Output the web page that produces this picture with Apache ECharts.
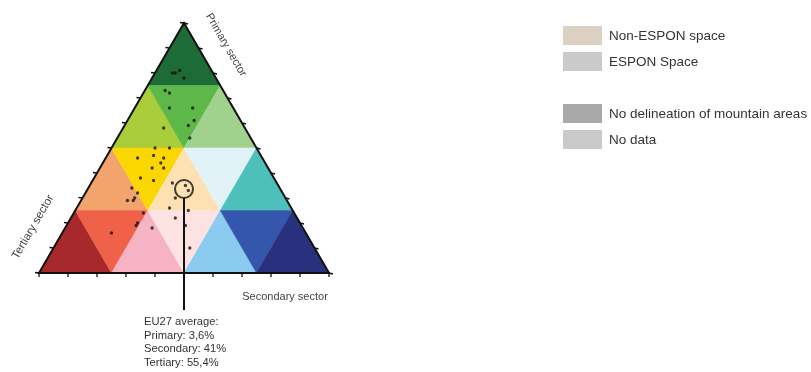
<!DOCTYPE html>
<html><head><meta charset="utf-8">
<script src="https://cdn.jsdelivr.net/npm/echarts@6/dist/echarts.min.js"></script>
<style>html,body{margin:0;padding:0;background:#fff}#c{width:811px;height:372px}</style>
</head><body><div id="c"></div>
<script>
// Region shares (%): primary / secondary / tertiary
const regionPrimary   = [80,80,81,78, 73,72,66,66,61,59,58,54, 50,50,47,46,46,44,42,42,38,37,34,32,30,29,29, 36,35,33,30,26,25, 24,20,19,18,16,22,19,10];
const regionSecondary = [ 6, 7, 8,11,  7, 9,12,20,23,22,14,25, 15,20,16,20,11,20,22,18,16,21,15,18,18,18,16, 28,33,35,32,32,39, 24,24,24,30,17,36,41,47];

// Ternary classes (vertices as [primary, secondary]) and colours
const cellVertices = [
  [[100,0],[75,0],[75,25]],
  [[75,0],[50,0],[50,25]], [[75,0],[75,25],[50,25]], [[75,25],[50,25],[50,50]],
  [[50,0],[25,0],[25,25]], [[50,0],[50,25],[25,25]], [[50,25],[25,25],[25,50]], [[50,25],[50,50],[25,50]], [[50,50],[25,50],[25,75]],
  [[25,0],[0,0],[0,25]], [[25,0],[25,25],[0,25]], [[25,25],[0,25],[0,50]], [[25,25],[25,50],[0,50]], [[25,50],[0,50],[0,75]], [[25,50],[25,75],[0,75]], [[25,75],[0,75],[0,100]]
];
const cellColors = [
  '#1d6b36',
  '#aacd3c', '#5db749', '#a0d28e',
  '#f2a46c', '#fad700', '#fde1b3', '#e2f3f8', '#4dc0bc',
  '#a7292b', '#ef6149', '#f5b3c3', '#fde2e2', '#8acbef', '#3457ad', '#29317f'
];
const tickValues = [0,10,20,30,40,50,60,70,80,90,100];

// EU27 average marker (position in plot) and annotation
const euMarker = [33.6, 33.2];
const euLines = ['EU27 average:', 'Primary: 3,6%', 'Secondary: 41%', 'Tertiary: 55,4%'];

// Axis titles
const axisTitles = ['Primary sector', 'Secondary sector', 'Tertiary sector'];

// Legend
const legendLabels = ['Non-ESPON space', 'ESPON Space', 'No delineation of mountain areas', 'No data'];
const legendColors = ['#dcd0c2', '#cacacd', '#a9a9a9', '#c9c9c9'];

function xy(p, s) { return [s + p / 2, p]; }

const chart = echarts.init(document.getElementById('c'));
const FONT = 'Liberation Sans, Arial, sans-serif';

const tickData = [];
tickValues.forEach(v => { tickData.push([0, v]); tickData.push([1, v]); tickData.push([2, v]); });

const legendTop = [26, 52, 104, 130];
const graphics = [];
legendLabels.forEach((l, i) => {
  graphics.push({type: 'rect', shape: {x: 563, y: legendTop[i], width: 39, height: 19}, style: {fill: legendColors[i]}});
  graphics.push({type: 'text', x: 609, y: legendTop[i] + 10, style: {text: l, fill: '#333', font: '13.5px ' + FONT, verticalAlign: 'middle'}});
});
graphics.push({type: 'text', x: 226, y: 45, rotation: -Math.PI / 3, style: {text: axisTitles[0], fill: '#444', font: '11px ' + FONT, align: 'center', verticalAlign: 'middle'}});
graphics.push({type: 'text', x: 285, y: 297, style: {text: axisTitles[1], fill: '#444', font: '11px ' + FONT, align: 'center', verticalAlign: 'middle'}});
graphics.push({type: 'text', x: 33, y: 227, rotation: Math.PI / 3, style: {text: axisTitles[2], fill: '#444', font: '11.5px ' + FONT, align: 'center', verticalAlign: 'middle'}});
euLines.forEach((t, i) => {
  graphics.push({type: 'text', x: 144, y: 322 + i * 13.5, style: {text: t, fill: '#333', font: '11.2px ' + FONT, verticalAlign: 'middle'}});
});

chart.setOption({
  animation: false,
  grid: {left: 39, top: 23, width: 290, height: 250},
  xAxis: {type: 'value', min: 0, max: 100, show: false},
  yAxis: {type: 'value', min: 0, max: 100, show: false},
  graphic: graphics,
  series: [
    {
      type: 'custom', z: 1,
      data: cellColors.map((c, i) => i),
      renderItem: (params, api) => {
        const i = api.value(0);
        const pts = cellVertices[i].map(v => api.coord(xy(v[0], v[1])));
        return {type: 'polygon', shape: {points: pts}, style: {fill: cellColors[i], stroke: cellColors[i], lineWidth: 0.5}};
      }
    },
    {
      type: 'custom', z: 3,
      data: [0],
      renderItem: (params, api) => {
        const pts = [api.coord(xy(100, 0)), api.coord(xy(0, 0)), api.coord(xy(0, 100))];
        return {type: 'polygon', shape: {points: pts}, style: {fill: 'none', stroke: '#111', lineWidth: 2}};
      }
    },
    {
      type: 'custom', z: 3,
      data: tickData,
      renderItem: (params, api) => {
        const e = api.value(0), v = api.value(1);
        let p, d;
        if (e === 0) { p = api.coord(xy(0, v)); d = [0, 4]; }
        else if (e === 1) { p = api.coord(xy(v, 0)); d = [-4, -0.5]; }
        else { p = api.coord(xy(v, 100 - v)); d = [4, 1]; }
        return {type: 'line', shape: {x1: p[0], y1: p[1], x2: p[0] + d[0], y2: p[1] + d[1]}, style: {stroke: '#111', lineWidth: 1.3}};
      }
    },
    {
      type: 'scatter', z: 4,
      symbolSize: 3.3,
      itemStyle: {color: '#111'},
      data: regionPrimary.map((p, i) => xy(p, regionSecondary[i]))
    },
    {
      type: 'scatter', z: 5,
      symbolSize: 18,
      itemStyle: {color: 'rgba(0,0,0,0)', borderColor: '#111', borderWidth: 2},
      data: [xy(euMarker[0], euMarker[1])]
    },
    {
      type: 'custom', z: 5,
      data: [xy(euMarker[0], euMarker[1])],
      renderItem: (params, api) => {
        const c = api.coord([api.value(0), api.value(1)]);
        return {type: 'line', shape: {x1: c[0], y1: c[1] + 9, x2: c[0], y2: c[1] + 121}, style: {stroke: '#111', lineWidth: 2}};
      }
    }
  ]
});
</script></body></html>
